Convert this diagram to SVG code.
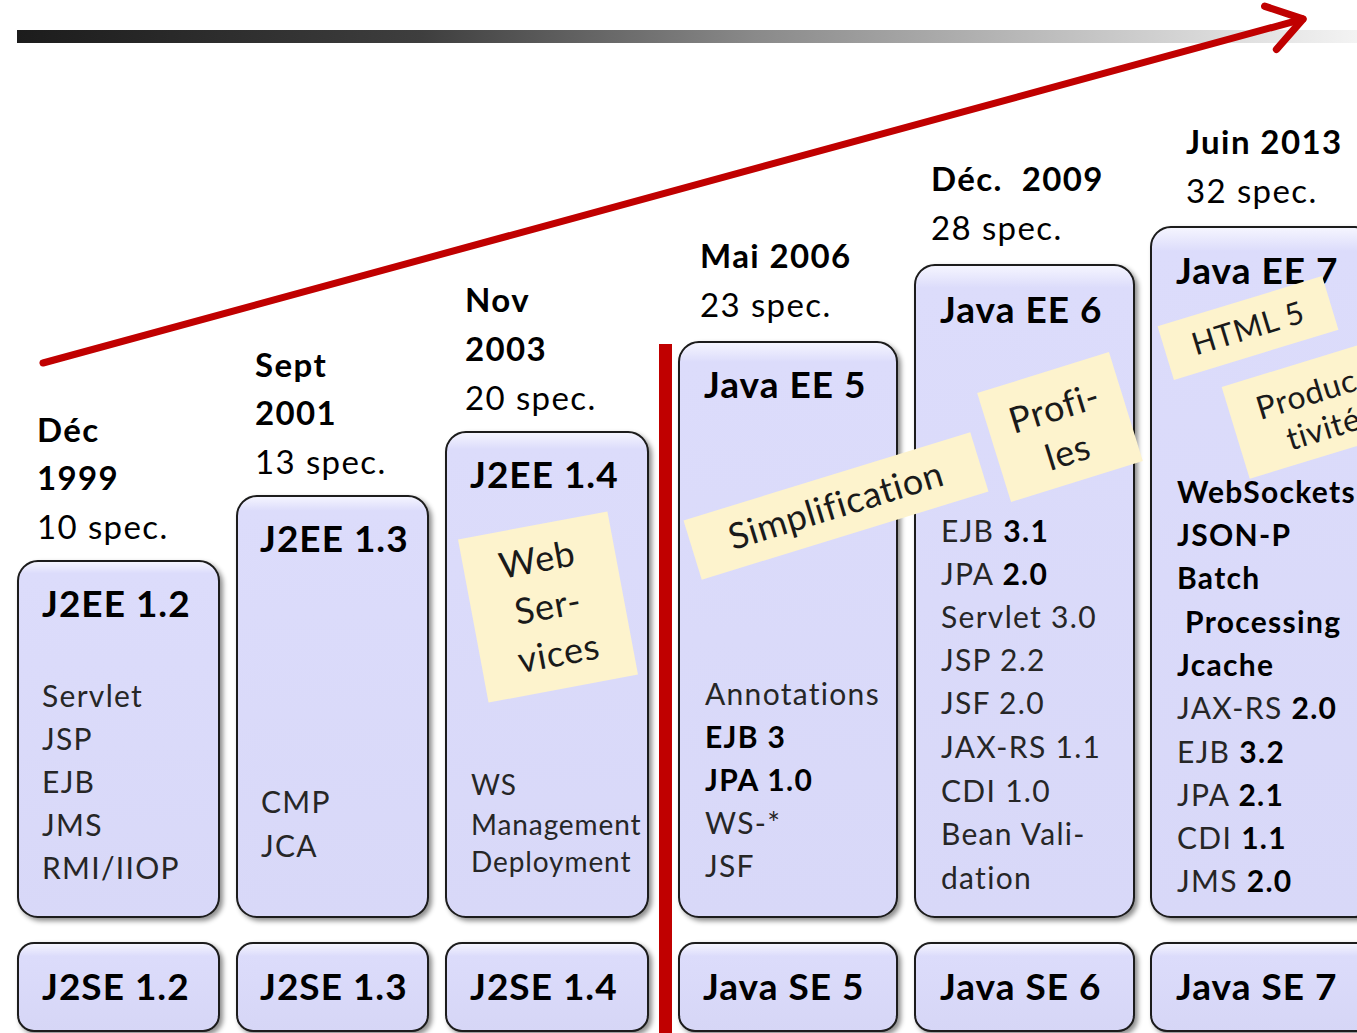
<svg xmlns="http://www.w3.org/2000/svg" width="1357" height="1033" viewBox="0 0 1357 1033">
<defs>
  <linearGradient id="bar" x1="0" y1="0" x2="1" y2="0">
    <stop offset="0" stop-color="#1c1c1c"/>
    <stop offset="0.3" stop-color="#3e3e3e"/>
    <stop offset="0.55" stop-color="#8a8a8a"/>
    <stop offset="1" stop-color="#f4f4f4"/>
  </linearGradient>
  <linearGradient id="boxfill" x1="0" y1="0" x2="0" y2="1">
    <stop offset="0" stop-color="#f6f6ff"/>
    <stop offset="0.035" stop-color="#dcdcfb"/>
    <stop offset="1" stop-color="#d8d8f8"/>
  </linearGradient>
  <linearGradient id="boxfillS" x1="0" y1="0" x2="0" y2="1">
    <stop offset="0" stop-color="#f6f6ff"/>
    <stop offset="0.15" stop-color="#dcdcfb"/>
    <stop offset="1" stop-color="#d6d6f6"/>
  </linearGradient>
  <filter id="sh" x="-10%" y="-10%" width="130%" height="130%">
    <feDropShadow dx="3" dy="3" stdDeviation="2.5" flood-color="#000" flood-opacity="0.45"/>
  </filter>
  <marker id="ah" viewBox="0 0 20 20" refX="14" refY="10" markerWidth="8" markerHeight="8" orient="auto" markerUnits="strokeWidth">
    <path d="M2,2 L14,10 L2,18" fill="none" stroke="#c00000" stroke-width="2.6" stroke-linecap="round" stroke-linejoin="round"/>
  </marker>
</defs>
<style>
  .box { fill: url(#boxfill); stroke: #1a1a1a; stroke-width: 2; filter: url(#sh); }
  .sbox { fill: url(#boxfillS); stroke: #1a1a1a; stroke-width: 2; filter: url(#sh); }
  .hd { font-family: Lato, "Liberation Sans", sans-serif; font-size: 33px; letter-spacing: 1.4px; fill: #000; }
  .hb { font-weight: bold; }
  .tt { font-family: Lato, "Liberation Sans", sans-serif; font-size: 37px; letter-spacing: 1px; font-weight: bold; fill: #000; }
  .it { font-family: Lato, "Liberation Sans", sans-serif; font-size: 30px; letter-spacing: 1.3px; fill: #262626; }
  .its { font-family: Lato, "Liberation Sans", sans-serif; font-size: 28px; letter-spacing: 0.9px; fill: #262626; }
  .b { font-weight: bold; fill: #000; }
  .note { fill: #fdf3cd; }
  .nt { font-family: Lato, "Liberation Sans", sans-serif; font-size: 36px; letter-spacing: 0.7px; fill: #1a1a1a; text-anchor: middle; }
</style>

<rect x="17" y="30" width="1345" height="13" fill="url(#bar)"/>

<g id="connectors">
  <line x1="43" y1="363" x2="1303" y2="19" stroke="#c00000" stroke-width="7" stroke-linecap="round" marker-end="url(#ah)"/>
  <rect x="659" y="344" width="13" height="689" fill="#c00000"/>
</g>

<g id="col-1999">
  <text class="hd" x="37" y="442"><tspan class="hb">Déc</tspan><tspan class="hb" x="37" dy="48">1999</tspan><tspan x="37" dy="49">10 spec.</tspan></text>
  <rect class="box" x="18" y="561" width="201" height="356" rx="20"/>
  <text class="tt" x="42" y="617">J2EE 1.2</text>
  <text class="it" x="42" y="707">Servlet<tspan x="42" dy="43">JSP</tspan><tspan x="42" dy="43">EJB</tspan><tspan x="42" dy="43">JMS</tspan><tspan x="42" dy="43">RMI/IIOP</tspan></text>
</g>

<g id="col-2001">
  <text class="hd" x="255" y="377"><tspan class="hb">Sept</tspan><tspan class="hb" x="255" dy="48">2001</tspan><tspan x="255" dy="49">13 spec.</tspan></text>
  <rect class="box" x="237" y="496" width="191" height="421" rx="20"/>
  <text class="tt" x="260" y="552">J2EE 1.3</text>
  <text class="it" x="261" y="813">CMP<tspan x="261" dy="44">JCA</tspan></text>
</g>

<g id="col-2003">
  <text class="hd" x="465" y="312"><tspan class="hb">Nov</tspan><tspan class="hb" x="465" dy="49">2003</tspan><tspan x="465" dy="49">20 spec.</tspan></text>
  <rect class="box" x="446" y="432" width="202" height="485" rx="20"/>
  <text class="tt" x="470" y="488">J2EE 1.4</text>
  <text class="its" x="471" y="795">WS<tspan x="471" dy="40">Management</tspan><tspan x="471" dy="37">Deployment</tspan></text>
</g>

<g id="col-2006">
  <text class="hd" x="700" y="268"><tspan class="hb">Mai 2006</tspan><tspan x="700" dy="49">23 spec.</tspan></text>
  <rect class="box" x="679" y="342" width="218" height="575" rx="20"/>
  <text class="tt" x="704" y="398">Java EE 5</text>
  <text class="it" x="705" y="705">Annotations<tspan x="705" dy="43" class="b">EJB 3</tspan><tspan x="705" dy="43" class="b">JPA 1.0</tspan><tspan x="705" dy="43">WS-*</tspan><tspan x="705" dy="43">JSF</tspan></text>
</g>

<g id="col-2009">
  <text class="hd" x="931" y="191"><tspan class="hb">Déc.&#160; 2009</tspan><tspan x="931" dy="49">28 spec.</tspan></text>
  <rect class="box" x="915" y="265" width="219" height="652" rx="20"/>
  <text class="tt" x="940" y="323">Java EE 6</text>
  <text class="it" x="941" y="542">EJB <tspan class="b">3.1</tspan><tspan x="941" dy="43">JPA </tspan><tspan class="b">2.0</tspan><tspan x="941" dy="43">Servlet 3.0</tspan><tspan x="941" dy="43">JSP 2.2</tspan><tspan x="941" dy="43">JSF 2.0</tspan><tspan x="941" dy="44">JAX-RS 1.1</tspan><tspan x="941" dy="44">CDI 1.0</tspan><tspan x="941" dy="43">Bean Vali-</tspan><tspan x="941" dy="44">dation</tspan></text>
</g>

<g id="col-2013">
  <text class="hd" x="1186" y="154"><tspan class="hb">Juin 2013</tspan><tspan x="1186" dy="49">32 spec.</tspan></text>
  <rect class="box" x="1151" y="227" width="224" height="690" rx="20"/>
  <text class="tt" x="1176" y="284">Java EE 7</text>
  <text class="it" x="1177" y="503"><tspan class="b">WebSockets</tspan><tspan x="1177" dy="43" class="b">JSON-P</tspan><tspan x="1177" dy="43" class="b">Batch</tspan><tspan x="1185" dy="44" class="b">Processing</tspan><tspan x="1177" dy="43" class="b">Jcache</tspan><tspan x="1177" dy="43">JAX-RS </tspan><tspan class="b">2.0</tspan><tspan x="1177" dy="44">EJB </tspan><tspan class="b">3.2</tspan><tspan x="1177" dy="43">JPA </tspan><tspan class="b">2.1</tspan><tspan x="1177" dy="43">CDI </tspan><tspan class="b">1.1</tspan><tspan x="1177" dy="43">JMS </tspan><tspan class="b">2.0</tspan></text>
</g>

<g id="note-webservices" transform="translate(548,607) rotate(-10.6)">
  <rect class="note" x="-76" y="-83" width="152" height="166"/>
  <text class="nt" x="-2" y="-36">Web</text>
  <text class="nt" x="0" y="12">Ser-</text>
  <text class="nt" x="2" y="60">vices</text>
</g>
<g id="note-simplification" transform="translate(836,506) rotate(-17.1)">
  <rect class="note" x="-150" y="-31" width="300" height="62"/>
  <text class="nt" x="0" y="12">Simplification</text>
</g>
<g id="note-profiles" transform="translate(1060,427) rotate(-17.3)">
  <rect class="note" x="-69" y="-57" width="138" height="114"/>
  <text class="nt" x="0" y="-7">Profi-</text>
  <text class="nt" x="0" y="39">les</text>
</g>
<g id="note-html5" transform="translate(1248,328) rotate(-17)">
  <rect class="note" x="-86" y="-28" width="172" height="56"/>
  <text class="nt" x="0" y="11" style="font-size:31px">HTML 5</text>
</g>
<g id="note-productivite" transform="translate(1317,408) rotate(-17)">
  <rect class="note" x="-85" y="-48" width="170" height="96"/>
  <text class="nt" x="0" y="-5" style="font-size:32px">Produc-</text>
  <text class="nt" x="0" y="33" style="font-size:32px">tivité</text>
</g>

<g id="se-12"><rect class="sbox" x="18" y="943" width="201" height="88" rx="16"/><text class="tt" x="42" y="1000">J2SE 1.2</text></g>
<g id="se-13"><rect class="sbox" x="237" y="943" width="191" height="88" rx="16"/><text class="tt" x="260" y="1000">J2SE 1.3</text></g>
<g id="se-14"><rect class="sbox" x="446" y="943" width="202" height="88" rx="16"/><text class="tt" x="470" y="1000">J2SE 1.4</text></g>
<g id="se-5"><rect class="sbox" x="679" y="943" width="218" height="88" rx="16"/><text class="tt" x="703" y="1000">Java SE 5</text></g>
<g id="se-6"><rect class="sbox" x="915" y="943" width="219" height="88" rx="16"/><text class="tt" x="940" y="1000">Java SE 6</text></g>
<g id="se-7"><rect class="sbox" x="1151" y="943" width="224" height="88" rx="16"/><text class="tt" x="1176" y="1000">Java SE 7</text></g>
</svg>
